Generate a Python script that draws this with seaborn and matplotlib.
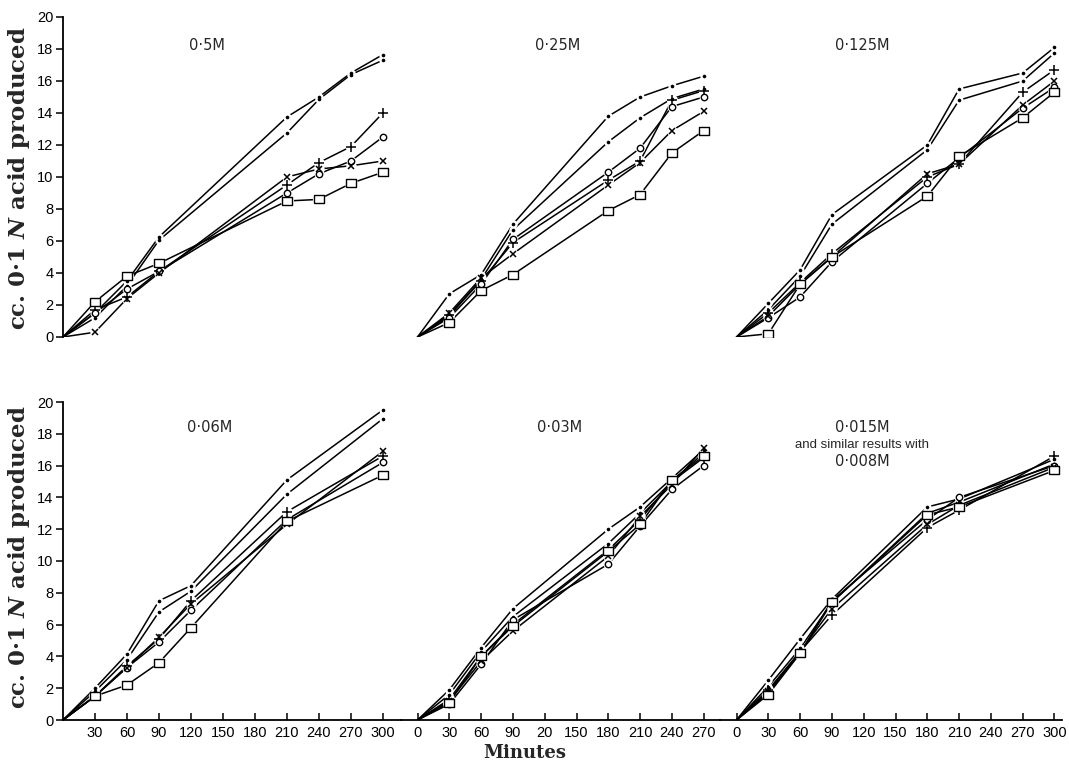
import matplotlib
matplotlib.use("Agg")
import matplotlib.pyplot as plt
import seaborn as sns

# ---------------- data ----------------
# 0.5M
T_05 = [0, 30, 60, 90, 210, 240, 270, 300]
DOT_A_05 = [0, 1.5, 3.5, 6.25, 13.75, 15.0, 16.5, 17.65]
DOT_B_05 = [0, 1.2, 3.2, 6.05, 12.75, 14.85, 16.4, 17.3]
PLUS_05 = [0, 1.7, 2.5, 4.1, 9.5, 10.9, 11.9, 14.0]
CIRC_05 = [0, 1.5, 3.0, 4.1, 9.0, 10.2, 11.0, 12.5]
CROSS_05 = [0, 0.3, 2.4, 4.0, 10.0, 10.5, 10.7, 11.0]
SQ_05 = [0, 2.2, 3.8, 4.6, 8.5, 8.6, 9.6, 10.3]

# 0.25M
T_025 = [0, 30, 60, 90, 180, 210, 240, 270]
DOT_A_025 = [0, 2.7, 3.9, 7.05, 13.8, 15.0, 15.7, 16.3]
DOT_B_025 = [0, 1.3, 3.6, 6.7, 12.2, 13.7, 14.9, 15.5]
PLUS_025 = [0, 1.4, 3.5, 5.9, 9.8, 11.0, 14.8, 15.4]
CIRC_025 = [0, 1.2, 3.3, 6.1, 10.3, 11.8, 14.4, 15.0]
CROSS_025 = [0, 1.5, 3.7, 5.2, 9.5, 10.9, 12.9, 14.1]
SQ_025 = [0, 0.9, 2.9, 3.9, 7.9, 8.9, 11.5, 12.9]

# 0.125M
T_0125 = [0, 30, 60, 90, 180, 210, 270, 300]
DOT_A_0125 = [0, 2.1, 4.2, 7.65, 12.0, 15.5, 16.5, 18.1]
DOT_B_0125 = [0, 1.7, 3.8, 7.05, 11.7, 14.8, 16.0, 17.75]
PLUS_0125 = [0, 1.5, 3.4, 5.2, 10.0, 10.8, 15.3, 16.7]
CIRC_0125 = [0, 1.2, 2.5, 4.7, 9.6, 11.2, 14.3, 15.6]
CROSS_0125 = [0, 1.3, 3.3, 5.0, 10.2, 10.8, 14.5, 16.0]
SQ_0125 = [0, 0.2, 3.3, 5.0, 8.8, 11.3, 13.7, 15.3]

# 0.06M
T_006 = [0, 30, 60, 90, 120, 210, 300]
DOT_A_006 = [0, 2.0, 4.15, 7.5, 8.45, 15.1, 19.5]
DOT_B_006 = [0, 1.8, 3.8, 6.8, 8.1, 14.2, 18.95]
PLUS_006 = [0, 1.5, 3.4, 5.1, 7.5, 13.1, 16.6]
CIRC_006 = [0, 1.5, 3.3, 4.9, 6.9, 12.6, 16.2]
CROSS_006 = [0, 1.5, 3.3, 5.2, 7.3, 12.3, 16.9]
SQ_006 = [0, 1.5, 2.2, 3.6, 5.8, 12.5, 15.4]

# 0.03M
T_003 = [0, 30, 60, 90, 180, 210, 240, 270]
DOT_A_003 = [0, 1.9, 4.55, 7.0, 12.0, 13.4, 15.2, 17.0]
DOT_B_003 = [0, 1.6, 4.3, 6.5, 11.1, 13.0, 15.0, 16.8]
PLUS_003 = [0, 1.3, 4.0, 6.0, 10.7, 12.6, 15.0, 16.5]
CIRC_003 = [0, 1.0, 3.5, 6.3, 9.8, 12.2, 14.5, 16.0]
CROSS_003 = [0, 1.2, 3.7, 5.6, 10.3, 12.8, 14.8, 17.1]
SQ_003 = [0, 1.1, 4.0, 5.9, 10.6, 12.3, 15.1, 16.6]

# 0.015M
T_0015 = [0, 30, 60, 90, 180, 210, 300]
DOT_A_0015 = [0, 2.5, 5.1, 7.6, 13.4, 13.9, 16.4]
DOT_B_0015 = [0, 2.1, 4.5, 7.4, 13.0, 13.7, 16.1]
PLUS_0015 = [0, 1.9, 4.3, 6.6, 12.1, 13.2, 16.6]
CIRC_0015 = [0, 1.7, 4.2, 7.5, 12.6, 14.0, 16.0]
CROSS_0015 = [0, 1.8, 4.3, 7.0, 12.3, 13.5, 15.9]
SQ_0015 = [0, 1.6, 4.2, 7.4, 12.9, 13.4, 15.7]

TITLES = ["0·5M", "0·25M", "0·125M", "0·06M", "0·03M", "0·015M"]
Y_TICKS = [0, 2, 4, 6, 8, 10, 12, 14, 16, 18, 20]
X_TICKS_LEFT = [30, 60, 90, 120, 150, 180, 210, 240, 270, 300]
X_LABELS_LEFT = ["30", "60", "90", "120", "150", "180", "210", "240", "270", "300"]
X_TICKS_MID = [0, 30, 60, 90, 120, 150, 180, 210, 240, 270]
X_LABELS_MID = ["0", "30", "60", "90", "20", "150", "180", "210", "240", "270"]
X_TICKS_RIGHT = [0, 30, 60, 90, 120, 150, 180, 210, 240, 270, 300]
X_LABELS_RIGHT = ["0", "30", "60", "90", "120", "150", "180", "210", "240", "270", "300"]
Y_LABEL = r"cc. 0·1 $N$ acid produced"
X_LABEL = "Minutes"

# ---------------- style ----------------
sns.set_theme(style="white")
plt.rcParams.update({
    "font.family": ["Liberation Sans", "DejaVu Sans"],
    "mathtext.fontset": "custom",
    "mathtext.it": "DejaVu Serif:italic:bold",
    "mathtext.rm": "DejaVu Serif:bold",
    "mathtext.bf": "DejaVu Serif:bold",
    "axes.edgecolor": "black",
    "axes.linewidth": 1.3,
    "xtick.color": "black",
    "ytick.color": "black",
})

RECT = [(-1.35, -1.0), (1.35, -1.0), (1.35, 1.0), (-1.35, 1.0), (-1.35, -1.0)]

# marker, size, face, edge width, halo size
STYLES = {
    "dot_a": ("o", 2.6, "black", 0.0, 6.0),
    "dot_b": ("o", 2.6, "black", 0.0, 6.0),
    "plus": ("+", 7.0, "none", 1.1, 8.0),
    "circ": ("o", 4.6, "white", 1.0, 7.0),
    "cross": ("x", 5.0, "none", 1.1, 7.5),
    "sq": (RECT, 7.5, "white", 1.0, 9.5),
}

PANELS = [
    (0, 0, T_05, {"dot_a": DOT_A_05, "dot_b": DOT_B_05, "plus": PLUS_05,
                  "circ": CIRC_05, "cross": CROSS_05, "sq": SQ_05}),
    (0, 1, T_025, {"dot_a": DOT_A_025, "dot_b": DOT_B_025, "plus": PLUS_025,
                   "circ": CIRC_025, "cross": CROSS_025, "sq": SQ_025}),
    (0, 2, T_0125, {"dot_a": DOT_A_0125, "dot_b": DOT_B_0125, "plus": PLUS_0125,
                    "circ": CIRC_0125, "cross": CROSS_0125, "sq": SQ_0125}),
    (1, 0, T_006, {"dot_a": DOT_A_006, "dot_b": DOT_B_006, "plus": PLUS_006,
                   "circ": CIRC_006, "cross": CROSS_006, "sq": SQ_006}),
    (1, 1, T_003, {"dot_a": DOT_A_003, "dot_b": DOT_B_003, "plus": PLUS_003,
                   "circ": CIRC_003, "cross": CROSS_003, "sq": SQ_003}),
    (1, 2, T_0015, {"dot_a": DOT_A_0015, "dot_b": DOT_B_0015, "plus": PLUS_0015,
                    "circ": CIRC_0015, "cross": CROSS_0015, "sq": SQ_0015}),
]

W, H = 1069, 762
fig = plt.figure(figsize=(W / 100, H / 100), dpi=100)


def add_ax(x0, x1, ytop, ybot):
    return fig.add_axes([x0 / W, (H - ybot) / H, (x1 - x0) / W, (ybot - ytop) / H])


COLS = [(63, 401, (0, 317)), (401, 720, (-15.6, 285.4)), (720, 1062, (-15.6, 307.1))]
ROWS = [(17, 337), (402, 720)]
TITLE_POS = [(207, 46), (558, 46), (862, 46), (210, 428), (560, 428), (862, 428)]

for idx, (r, c, T, series) in enumerate(PANELS):
    x0, x1, xl = COLS[c]
    yt, yb = ROWS[r]
    ax = add_ax(x0, x1, yt, yb)
    ax.patch.set_alpha(0)
    for name, vals in series.items():
        m, ms, mfc, mew, halo = STYLES[name]
        sns.lineplot(x=T, y=vals, ax=ax, color="black", linewidth=1.1,
                     estimator=None, sort=False, zorder=2)
        sns.lineplot(x=T[1:], y=vals[1:], ax=ax, color="white", linestyle="none",
                     marker="o", markersize=halo, markerfacecolor="white",
                     markeredgecolor="white", markeredgewidth=0,
                     estimator=None, sort=False, zorder=3)
    for name, vals in series.items():
        m, ms, mfc, mew, halo = STYLES[name]
        sns.lineplot(x=T[1:], y=vals[1:], ax=ax, color="black", linestyle="none",
                     marker=m, markersize=ms, markerfacecolor=mfc,
                     markeredgecolor="black", markeredgewidth=mew,
                     estimator=None, sort=False, zorder=4)
    ax.set_xlim(*xl)
    ax.set_ylim(0, 20)
    ax.set_xlabel("")
    ax.set_ylabel("")
    for s in ["top", "right"]:
        ax.spines[s].set_visible(False)
    ax.spines["left"].set_visible(c == 0)
    ax.spines["bottom"].set_visible(r == 1)
    if c == 0:
        ax.set_yticks(Y_TICKS)
        ax.set_yticklabels([str(v) for v in Y_TICKS])
        ax.tick_params(axis="y", direction="out", length=5, width=1.1, pad=2,
                       labelsize=10.5, left=True)
    else:
        ax.set_yticks([])
    if r == 1:
        if c == 0:
            ax.set_xticks(X_TICKS_LEFT)
            ax.set_xticklabels(X_LABELS_LEFT)
        elif c == 1:
            ax.set_xticks(X_TICKS_MID)
            ax.set_xticklabels(X_LABELS_MID)
        else:
            ax.set_xticks(X_TICKS_RIGHT)
            ax.set_xticklabels(X_LABELS_RIGHT)
        ax.tick_params(axis="x", direction="in", length=5, width=1.1, pad=4,
                       labelsize=10.5, bottom=True)
    else:
        ax.set_xticks([])
    tx, ty = TITLE_POS[idx]
    fig.text(tx / W, 1 - ty / H, TITLES[idx], ha="center", va="center",
             fontsize=10.5, family="DejaVu Sans")

fig.text(862 / W, 1 - 445 / H, "and similar results with", ha="center", va="center",
         fontsize=9.5, family="Liberation Sans")
fig.text(862 / W, 1 - 461 / H, "0·008M", ha="center", va="center",
         fontsize=10.5, family="DejaVu Sans")

for cy in (178, 557):
    fig.text(19 / W, 1 - cy / H, Y_LABEL, rotation=90, ha="center", va="center",
             fontsize=16.5, family="DejaVu Serif", fontweight="bold")

fig.text(525 / W, 1 - 753 / H, X_LABEL, ha="center", va="center",
         fontsize=13, family="DejaVu Serif", fontweight="bold")

fig.savefig("out.png", dpi=100, facecolor="white")
